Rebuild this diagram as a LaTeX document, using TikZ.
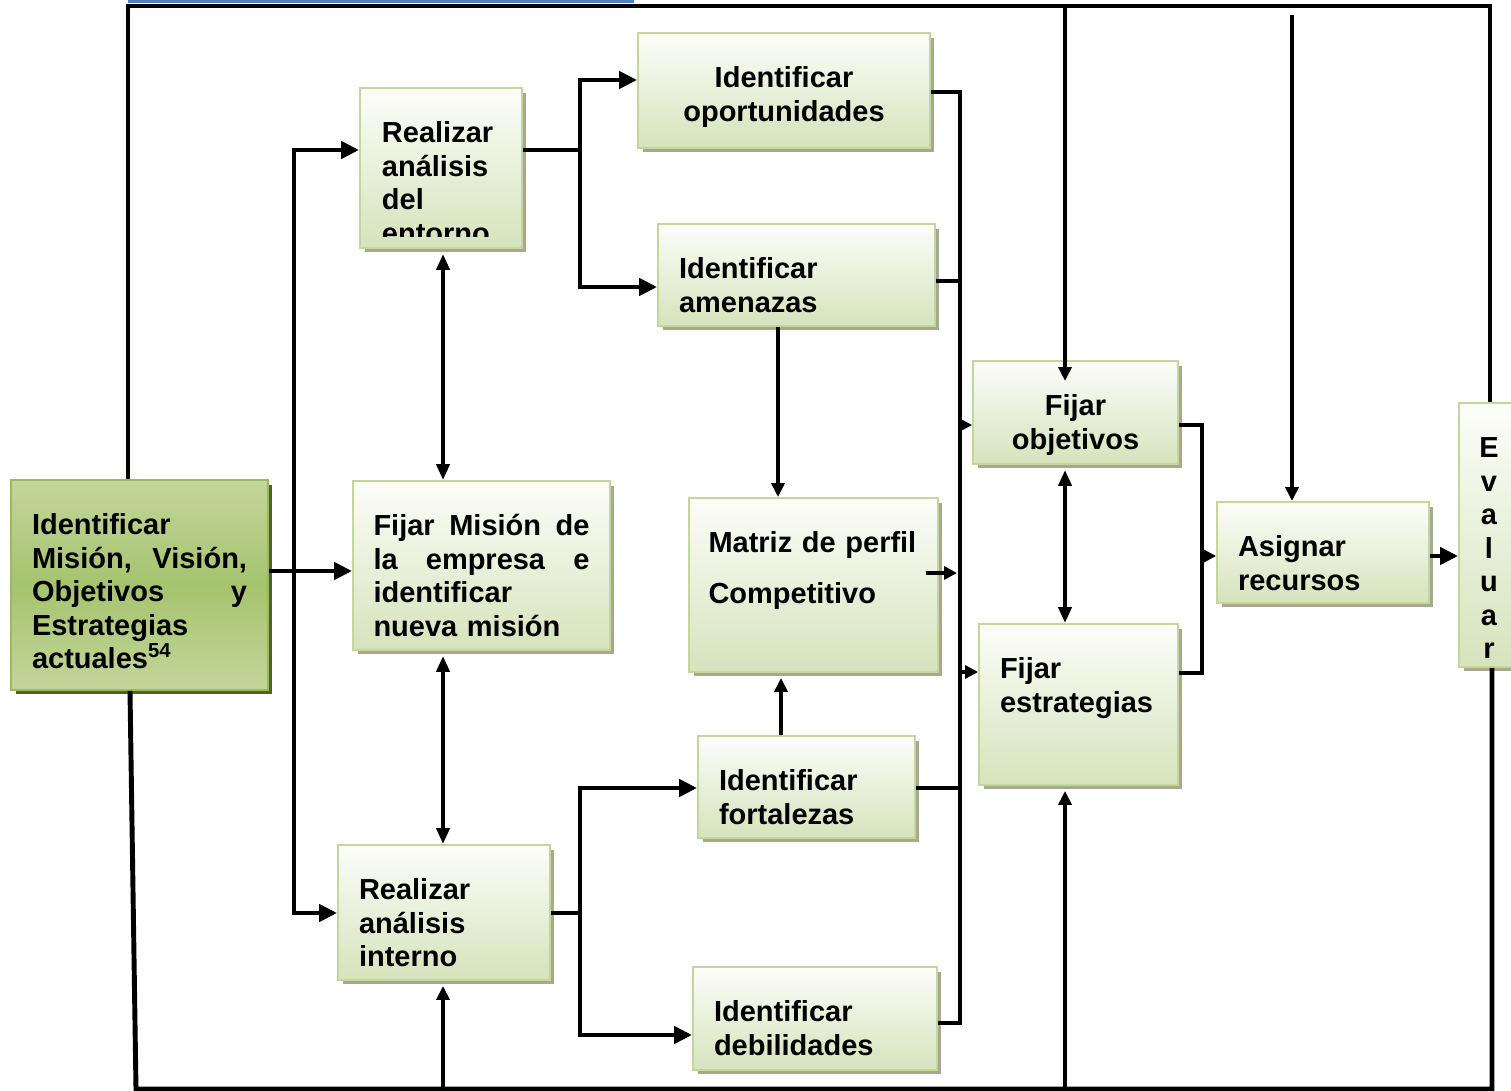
\documentclass[tikz,border=0pt]{standalone}
\usepackage{fontspec}
\setmainfont{Liberation Sans}
\usetikzlibrary{arrows.meta, shadows}
\definecolor{boxline}{HTML}{C3D69B}
\definecolor{boxtop}{HTML}{FCFDF9}
\definecolor{boxbot}{HTML}{D6E3BC}
\definecolor{shad}{HTML}{A6A98F}
\definecolor{keyline}{HTML}{9BBB59}
\definecolor{keyout}{HTML}{C3D69B}
\definecolor{keymid}{HTML}{A6C36E}
\definecolor{keyshad}{HTML}{4F6228}
\definecolor{topblue}{HTML}{4F81BD}
\newcommand{\blockfont}{\bfseries\fontsize{16.5}{19.1}\selectfont}
\hyphenpenalty=10000
\exhyphenpenalty=10000

\begin{document}
\begin{tikzpicture}[
  x=0.02cm, y=-0.02cm,
  boxbase/.style={inner sep=0pt, line width=1.1pt, text height=1.09cm, align=left, font=\blockfont},
  box/.style={boxbase, draw=boxline, top color=boxtop, bottom color=boxbot,
    drop shadow={shadow xshift=0.09cm, shadow yshift=-0.09cm, fill=shad, opacity=1}},
  keybox/.style={boxbase, draw=keyline, top color=keyout, bottom color=keyout, middle color=keymid,
    drop shadow={shadow xshift=0.09cm, shadow yshift=-0.09cm, fill=keyshad, opacity=1}},
  link/.style={line width=2.8pt, line join=miter},
  rim/.style={line width=2.8pt, line join=miter},
  arr/.style={link, -{Triangle[length=0.36cm, width=0.34cm]}},
  arrboth/.style={link, {Triangle[length=0.36cm, width=0.34cm]}-{Triangle[length=0.36cm, width=0.34cm]}},
  arrs/.style={link, -{Triangle[length=0.26cm, width=0.26cm]}},
  arrv/.style={line width=2.4pt, -{Triangle[length=0.28cm, width=0.26cm]}},
  dbl/.style={line width=2.3pt, shorten <=0.1cm,
    {Triangle[length=0.32cm, width=0.26cm]}-{Triangle[length=0.32cm, width=0.26cm]}}
]
\path[use as bounding box, fill=white] (0,0) rectangle (1511,1091);

\node[keybox, minimum width=5.14cm, minimum height=4.2cm, text width=4.3cm, text depth=3.11cm] (mvo) at (139.5,585)
  {Identificar\\ Misión,\hfill Visión,\\ Objetivos\hfill y\\ Estrategias\\ actuales\textsuperscript{54}};
\node[box, minimum width=3.24cm, minimum height=3.2cm, text depth=2.11cm,
  path picture={
    \clip (path picture bounding box.north west) rectangle ([yshift=0.22cm]path picture bounding box.south east);
    \node[anchor=base west, inner sep=0pt, minimum size=0pt, text width=2.4cm, align=left, font=\blockfont] (entornotext)
      at ([xshift=0.42cm, yshift=-1.09cm]path picture bounding box.north west) {Realizar\\ análisis\\ del\\ entorno};
  }] (entorno) at (441,168) {};
\node[box, minimum width=5.84cm, minimum height=2.3cm, text width=5.0cm, text depth=1.21cm, align=center] (opor) at (784,90.5)
  {Identificar\\ oportunidades};
\node[box, minimum width=5.54cm, minimum height=2.04cm, text width=4.7cm, text depth=0.95cm] (amen) at (796.5,275)
  {Identificar\\ amenazas};
\node[box, minimum width=5.14cm, minimum height=3.38cm, text width=4.32cm, text depth=2.29cm] (mision) at (481.5,565.5)
  {Fijar\hfill Misión\hfill de\\ la\hfill empresa\hfill e\\ identificar\\ nueva misión};
\node[box, minimum width=4.98cm, minimum height=3.48cm, text width=4.2cm, text depth=2.39cm] (matriz) at (813.5,585)
  {Matriz de perfil\\[9.8pt] Competitivo};
\node[box, minimum width=4.34cm, minimum height=2.04cm, text width=3.5cm, text depth=0.95cm] (forta) at (806.5,787)
  {Identificar\\ fortalezas};
\node[box, minimum width=4.24cm, minimum height=2.7cm, text width=3.4cm, text depth=1.61cm] (interno) at (444,912.5)
  {Realizar\\ análisis\\ interno};
\node[box, minimum width=4.88cm, minimum height=2.06cm, text width=4.04cm, text depth=0.97cm] (debil) at (815,1018.5)
  {Identificar\\ debilidades};
\node[box, minimum width=4.1cm, minimum height=2.06cm, text width=3.26cm, text depth=0.97cm, align=center] (obj) at (1075.5,412.5)
  {Fijar\\ objetivos};
\node[box, minimum width=3.98cm, minimum height=3.22cm, text width=3.14cm, text depth=2.13cm] (estr) at (1078.5,704.5)
  {Fijar\\ estrategias};
\node[box, minimum width=4.24cm, minimum height=2.02cm, text width=3.4cm, text depth=0.93cm] (asign) at (1323,552.5)
  {Asignar\\ recursos};
\node[box, minimum width=1.2cm, minimum height=5.28cm, text width=1.0cm, text depth=4.19cm, align=center] (eval) at (1489,535)
  {E\\ v\\ a\\ l\\ u\\ a\\ r};

\coordinate (lbusT) at (294,150);
\coordinate (lbusM) at (294,571);
\coordinate (lbusB) at (294,913);
\coordinate (ubusT) at (580,80);
\coordinate (ubusB) at (580,287);
\coordinate (dbusT) at (580,788);
\coordinate (dbusB) at (580,1035);
\coordinate (rbusT) at (960,92);
\coordinate (rbusA) at (960,281);
\coordinate (rbusM) at (957,573);
\coordinate (rbusB) at (960,1023);
\coordinate (toobj) at (960,425);
\coordinate (toestr) at (960,672);
\coordinate (brT) at (1202,425);
\coordinate (brM) at (1202,556);
\coordinate (brB) at (1202,673);
\coordinate (colM) at (443,0);
\coordinate (colA) at (778,0);
\coordinate (colB) at (781,0);
\coordinate (colF) at (1065,0);
\coordinate (colR) at (1292,15);
\coordinate (objin) at (1065,381);
\coordinate (tl) at (128,6);
\coordinate (tr) at (1490,6);
\coordinate (lowl) at (130,0);
\coordinate (bl) at (136,1089);
\coordinate (br) at (1492,1089);
\coordinate (bluel) at (128,1.7);
\coordinate (bluer) at (634,1.7);

\draw[arr] (lbusM -| mvo.east) -- (lbusM -| mision.west);
\draw[arrboth] (lbusT -| entorno.west) -- (lbusT) -- (lbusB) -- (lbusB -| interno.west);

\draw[link] (lbusT -| entorno.east) -- (lbusT -| ubusT);
\draw[arrboth] (ubusT -| opor.west) -- (ubusT) -- (ubusB) -- (ubusB -| amen.west);
\draw[link] (lbusB -| interno.east) -- (lbusB -| dbusT);
\draw[arrboth] (dbusT -| forta.west) -- (dbusT) -- (dbusB) -- (dbusB -| debil.west);

\draw[link] (rbusT -| opor.east) -- (rbusT) -- (rbusB) -- (rbusB -| debil.east);
\draw[link] (rbusA -| amen.east) -- (rbusA);
\draw[link] (dbusT -| forta.east) -- (dbusT -| rbusT);
\draw[arrs] ([xshift=-0.26cm]rbusM -| matriz.east) -- (rbusM);
\draw[arrs] (toobj) -- (toobj -| obj.west);
\draw[arrs] (toestr) -- (toestr -| estr.west);

\draw[link] (toobj -| obj.east) -- (brT) -- (brB) -- (brB -| estr.east);
\draw[arrs] (brM) -- (brM -| asign.west);
\draw[arr] (brM -| asign.east) -- (brM -| eval.west);

\draw[arrv] (amen.south -| colA) -- (matriz.north -| colA);
\draw[arrv, shorten >=0.1cm] (forta.north -| colB) -- (matriz.south -| colB);
\draw[dbl] (entorno.south -| colM) -- (mision.north -| colM);
\draw[dbl] (mision.south -| colM) -- (interno.north -| colM);
\draw[dbl] (obj.south -| colF) -- (estr.north -| colF);

\draw[rim] (mvo.north -| tl) -- (tl) -- (tr) -- (eval.north -| tr);
\draw[rim] (mvo.south -| lowl) -- (bl) -- (br) -- (eval.south -| br);
\draw[topblue, line width=2pt] (bluel) -- (bluer);

\draw[arrv] (tl -| colF) -- (objin);
\draw[arrv] (colR) -- (asign.north -| colR);
\draw[arrv, shorten >=0.1cm] (bl -| colM) -- (interno.south -| colM);
\draw[arrv, shorten >=0.1cm] (bl -| colF) -- (estr.south -| colF);

\end{tikzpicture}
\end{document}
